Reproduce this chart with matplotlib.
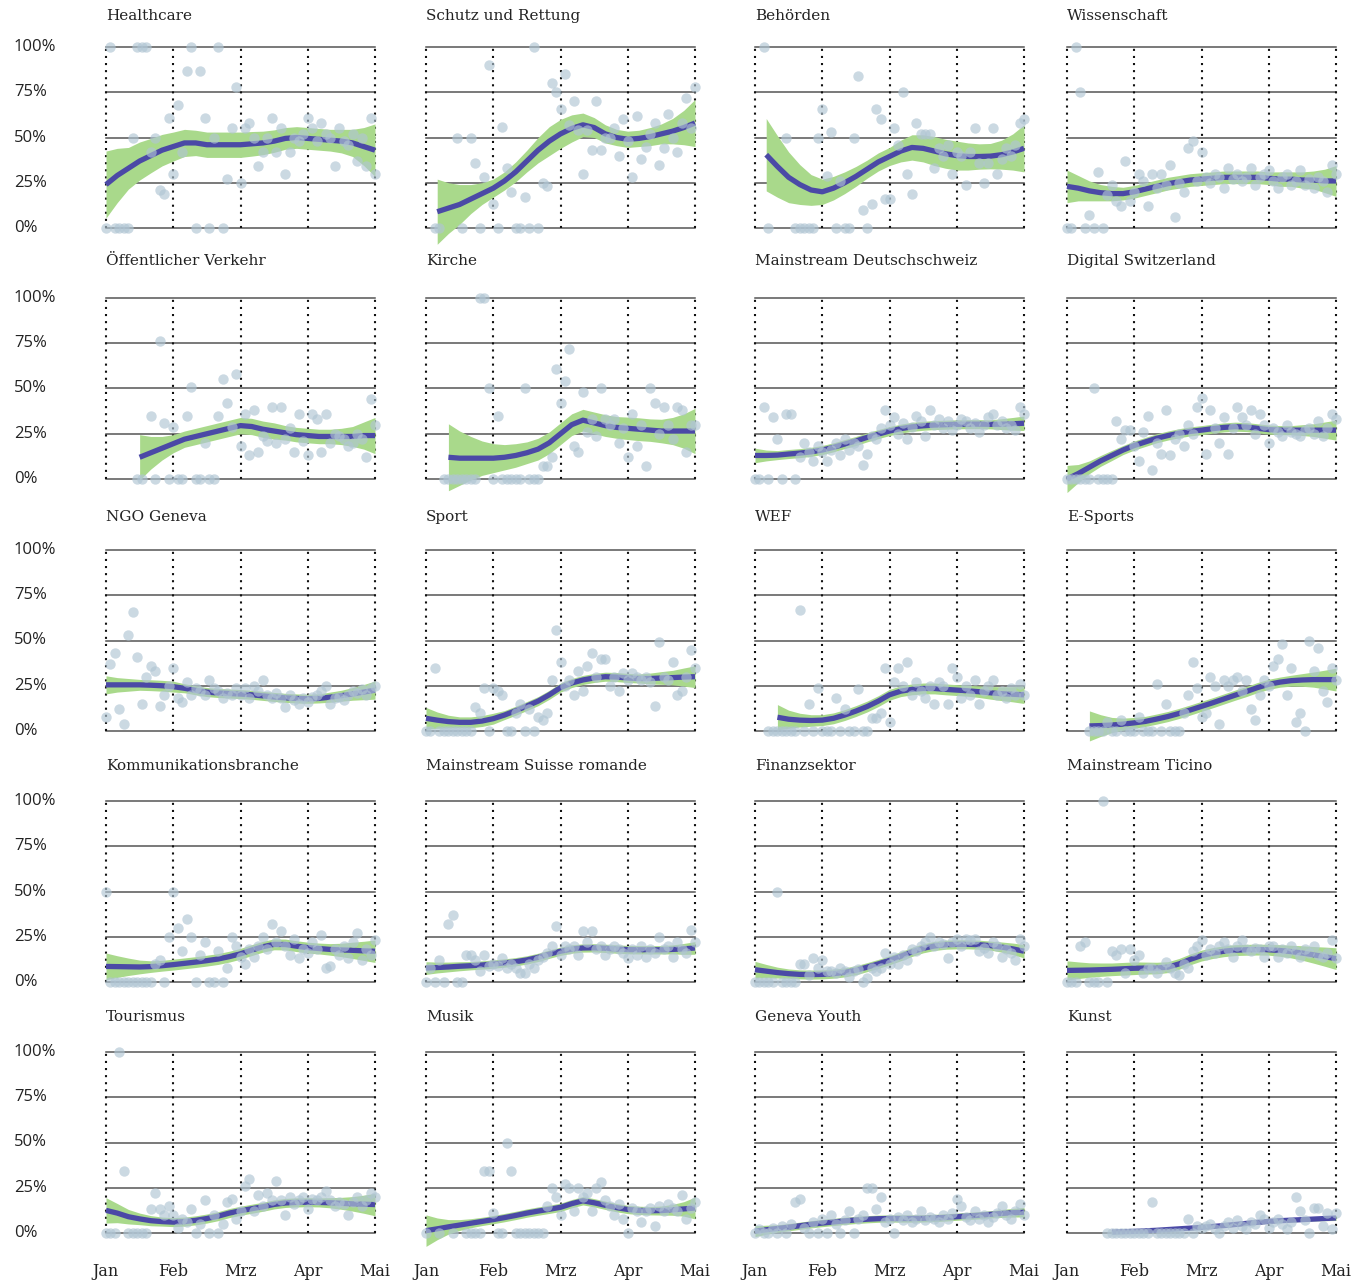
import numpy as np
import matplotlib
matplotlib.use("Agg")
import matplotlib.pyplot as plt

nan = np.nan

# Anteil in Prozent, ein Punkt pro zweitem Tag ab 1. Januar (Tag 0 .. 120)
# *_fit / *_se: Loess-Kurve und halbe Bandbreite, alle 5 Tage
healthcare_pts = [0, 100, 0, 0, 0, 0, 50, 100, 100, 100,
                  42, 50, 21, 19, 61, 30, 68, 42, 87, 100,
                  0, 87, 61, 0, 50, 100, 0, 27, 55, 78,
                  25, 55, 58, 50, 34, 42, 50, 61, 42, 55,
                  30, 42, 50, 48, 52, 61, 55, 48, 58, 52,
                  50, 34, 55, 48, 46, 52, 37, 50, 34, 61, 30]
healthcare_fit = [24, 29, 33, 37, 40, 43, 45, 47, 47, 46, 46, 46, 46, 46.5, 47,
                  48, 49.5, 50, 49.5, 49, 48.5, 48, 47, 45, 43]
healthcare_se = [18.5, 15, 11.5, 10.5, 9.5, 8.7, 8, 7.5, 7, 7, 7, 7, 7, 6.8, 6.5,
                 6.2, 6, 6, 6, 6, 6, 6.5, 7.5, 10.5, 14.5]

schutz_pts = [nan, nan, 0, 0, nan, nan, nan, 50, 0, nan,
              50, 36, 0, 28, 90, 13, 0, 56, 33, 20,
              0, 0, 17, 0, 100, 0, 25, 23, 80, 75,
              66, 85, 57, 70, 54, 30, 54, 43, 70, 43,
              50, 50, 55, 40, 60, 48, 28, 62, 38, 45,
              52, 58, 35, 44, 63, 50, 42, 58, 72, 55, 78]
schutz_fit = [nan, 9, 11, 13, 16, 19, 22, 26, 31, 37, 43, 48, 52, 55, 57,
              55.5, 52, 50, 49, 49.5, 50.5, 52, 53.5, 55.5, 58]
schutz_se = [nan, 18, 14, 11, 8, 6, 5, 5, 5.5, 6, 7, 8, 8, 7.5, 6.5,
             5.5, 5, 4.5, 4.5, 4.5, 5, 5.5, 7, 9.5, 13]

behoerden_pts = [nan, nan, 100, 0, nan, nan, nan, 50, nan, 0,
                 0, 0, 0, 0, 50, 66, 29, 53, 0, 26,
                 0, 0, 50, 84, 10, 0, 13, 66, 60, 16,
                 16, 55, 46, 75, 30, 19, 58, 52, 52, 52,
                 33, 44, 40, 46, 30, 42, 40, 24, 42, 55,
                 36, 25, 36, 55, 30, 38, 44, 40, 46, 58, 60]
behoerden_fit = [nan, 40.5, 34, 28, 24, 21, 20, 22, 25, 28.5, 32.5, 36.5, 39.5, 42.5, 44.5,
                 44, 42.5, 41, 40, 39.5, 39.5, 39.7, 40.5, 42, 44]
behoerden_se = [nan, 20, 17, 14, 11, 8.5, 7, 6.5, 6, 5.5, 5, 5, 5, 6, 7,
                7.5, 8, 8, 8, 7.5, 7, 7, 8, 10, 13]

wissenschaft_pts = [0, 0, 100, 75, 0, 7, 0, 31, 0, 18,
                    24, 15, 12, 37, 15, 20, 30, 26, 12, 30,
                    22, 30, 24, 35, 6, 25, 20, 44, 48, 26,
                    42, 28, 25, 30, 28, 22, 33, 27, 30, 26,
                    28, 33, 24, 28, 30, 32, 26, 22, 28, 30,
                    24, 26, 32, 24, 27, 22, 28, 26, 20, 35, 30]
wissenschaft_fit = [23, 22, 20.5, 19.5, 19, 19, 20, 21.5, 23, 24.5, 25.5, 26.5, 27, 27.5, 28,
                    28, 28, 28, 27.5, 27, 27, 26.5, 26.5, 26, 26]
wissenschaft_se = [9, 7, 5.5, 4.5, 4, 3.5, 3.5, 3.5, 3.5, 3.5, 3.5, 3.5, 3.5, 3.5, 3.5,
                   3.5, 3.5, 3.5, 3.5, 4, 4, 4.5, 5, 6.5, 8.5]

oev_pts = [nan, nan, nan, nan, nan, nan, nan, 0, 0, nan,
           35, 0, 76, 31, 0, 29, 0, 0, 35, 51,
           0, 0, 20, 0, 0, 35, 55, 42, 29, 58,
           18, 36, 13, 38, 15, 24, 21, 40, 20, 40,
           22, 28, 15, 36, 21, 13, 36, 33, 15, 36,
           20, 25, 24, 22, 18, 20, 25, 22, 12, 44, 30]
oev_fit = [nan, nan, nan, 12, 14.5, 17, 19.5, 22, 23.5, 25, 26.5, 28, 29.5, 29, 27.5,
           26.5, 25.5, 24.5, 24, 23.5, 23.5, 23.5, 23.5, 24, 24]
oev_se = [nan, nan, nan, 12.5, 9, 6.5, 5, 4.5, 4.5, 4.5, 4.5, 4.5, 4.5, 4.5, 4.5,
          4.5, 4, 4, 4, 4, 4, 4.5, 5.5, 7.5, 10]

kirche_pts = [nan, nan, nan, nan, 0, 0, 0, 0, 0, 0,
              0, 0, 100, 100, 50, 0, 35, 0, 0, 0,
              0, 0, 50, 0, 0, 0, 7, 7, 12, 61,
              42, 54, 72, 18, 15, 48, 26, 33, 24, 50,
              33, 30, 33, 20, 28, 12, 36, 18, 30, 7,
              50, 42, 25, 40, 30, 22, 40, 38, 15, 30, 30]
kirche_fit = [nan, nan, 12, 11.5, 11.5, 11.5, 11.5, 12, 13, 14.5, 16.5, 20, 25, 30, 32.5,
              31, 29.5, 28.5, 28, 27.5, 27, 26.5, 26.5, 26.5, 26.5]
kirche_se = [nan, nan, 18.5, 15, 12, 9.5, 8, 7, 6.5, 6, 6, 6, 6, 6, 6,
             6, 6, 6, 6.2, 6.3, 6.2, 6.5, 7.5, 9.5, 12.5]

ms_de_pts = [0, 0, 40, 0, 34, 22, 0, 36, 36, 0,
             12, 20, 15, 10, 18, 15, 10, 16, 20, 13,
             22, 16, 20, 18, 8, 14, 24, 22, 28, 38,
             30, 34, 25, 31, 22, 29, 35, 32, 24, 38,
             30, 33, 28, 32, 27, 30, 33, 32, 28, 31,
             26, 30, 34, 36, 30, 32, 28, 30, 27, 40, 36]
ms_de_fit = [13, 13, 13.2, 13.8, 14.3, 15, 16, 17.5, 19.3, 21, 23, 24.8, 26.5, 27.8, 28.8,
             29.4, 29.8, 30, 30.2, 30.3, 30.3, 30.2, 30.3, 30.5, 30.8]
ms_de_se = [4, 3, 2.5, 2.5, 2.5, 2.5, 2.5, 2.5, 2.5, 2.5, 2.5, 2.5, 2.5, 2.5, 2.5,
            2.5, 2.5, 2.5, 2.5, 2.5, 2.5, 2.5, 3, 3.5, 4]

digital_pts = [0, 0, 0, 0, 0, 0, 50, 0, 0, 0,
               0, 32, 22, 27, 27, 18, 10, 26, 35, 5,
               20, 14, 38, 13, 22, 25, 18, 30, 25, 40,
               45, 14, 38, 28, 20, 34, 14, 28, 40, 34,
               30, 38, 25, 36, 30, 20, 28, 26, 24, 30,
               26, 25, 24, 27, 28, 25, 32, 24, 28, 36, 33]
digital_fit = [0, 3, 6.5, 10, 13, 16, 18.5, 20.5, 22.5, 24, 25.3, 26.3, 27, 27.8, 28.5,
               28.9, 28.7, 28, 27.3, 27, 27, 27, 27, 27, 27]
digital_se = [7.5, 5, 3.5, 3, 2.8, 2.5, 2.5, 2.5, 2.5, 2.5, 2.5, 2.5, 2.5, 2.5, 2.5,
              2.5, 2.5, 2.5, 2.5, 2.5, 2.5, 3, 3.5, 4.5, 5.5]

ngo_pts = [8, 37, 43, 12, 4, 53, 66, 41, 15, 30,
           36, 33, 14, 20, 25, 35, 18, 16, 27, 20,
           24, 22, 20, 28, 24, 22, 18, 21, 20, 24,
           20, 24, 18, 25, 22, 28, 20, 18, 21, 18,
           13, 20, 17, 15, 18, 16, 19, 20, 22, 25,
           15, 18, 19, 17, 20, 22, 21, 23, 20, 24, 25]
ngo_fit = [25.5, 25.5, 25.5, 25.5, 25.3, 25, 24.5, 23.6, 22.5, 21.5, 21, 20.7, 20.4, 20, 19.4,
           18.8, 18.3, 18, 17.8, 18, 18.7, 19.5, 20.5, 21.5, 22.6]
ngo_se = [5, 4, 3.5, 3, 3, 3, 3, 2.5, 2.5, 2.5, 2.5, 2.5, 2.5, 2.5, 2.5,
          2.5, 2.5, 2.5, 2.5, 2.5, 2.8, 3, 3.5, 4.2, 5]

sport_pts = [0, 0, 35, 0, 0, 0, 0, 0, 0, 0,
             0, 13, 10, 24, 0, 24, 22, 20, 0, 0,
             10, 15, 0, 12, 0, 8, 6, 10, 28, 56,
             38, 25, 28, 20, 33, 22, 36, 43, 30, 40,
             40, 25, 30, 22, 32, 28, 32, 30, 28, 30,
             27, 14, 49, 30, 28, 38, 20, 22, 30, 45, 35]
sport_fit = [7, 6, 5.2, 4.8, 4.8, 5.5, 6.8, 8.8, 11.2, 13.8, 16.5, 20, 24, 26.5, 28.2,
             29.3, 30, 29.8, 29.3, 29, 29, 29.3, 29.5, 29.8, 30]
sport_se = [6, 4.5, 3.5, 3, 3, 3, 3, 2.5, 2.5, 2.5, 2.5, 2.5, 2.5, 2.5, 2.5,
            2.5, 2.5, 2.5, 2.5, 2.5, 3, 3.5, 4, 5, 6]

wef_pts = [nan, nan, nan, 0, 0, 0, 0, 0, 0, 0,
           67, 0, 15, 0, 24, 0, 0, 0, 18, 0,
           12, 0, 0, 23, 0, 0, 7, 7, 10, 35,
           5, 27, 35, 25, 38, 20, 27, 22, 18, 25,
           15, 27, 25, 15, 35, 30, 18, 25, 20, 28,
           15, 22, 25, 28, 20, 22, 18, 24, 20, 26, 20]
wef_fit = [nan, nan, 7.6, 6.5, 6, 5.8, 6, 7, 8.8, 11, 13.5, 16.5, 20, 22, 23,
           23.5, 23.5, 23, 22.6, 22.2, 21.7, 21.1, 20.6, 20.3, 20]
wef_se = [nan, nan, 7, 5, 3.8, 3.2, 3, 3, 3, 3, 3, 3, 3, 3, 3,
          3, 3, 3, 3, 3, 3.2, 3.5, 3.8, 4.2, 4.8]

esports_pts = [nan, nan, nan, nan, nan, 0, 0, 0, 0, 5,
               0, 0, 6, 0, 0, 0, 8, 0, 0, 0,
               26, 0, 15, 0, 0, 0, 10, 20, 38, 24,
               8, 10, 30, 25, 4, 28, 25, 28, 30, 22,
               28, 12, 6, 20, 28, 25, 36, 40, 48, 20,
               35, 5, 10, 0, 50, 33, 46, 22, 16, 35, 28]
esports_fit = [nan, nan, 2.8, 3, 3.3, 3.8, 4.5, 5.3, 6.6, 8, 9.7, 11.6, 13.6, 15.6, 17.7,
               19.8, 21.8, 24, 25.8, 27, 27.8, 28.2, 28.4, 28.4, 28.4]
esports_se = [nan, nan, 8.3, 6, 4.2, 3.3, 3, 2.8, 2.8, 2.8, 2.8, 2.8, 2.8, 2.8, 2.8,
              2.8, 2.8, 2.8, 2.8, 2.8, 3, 3.5, 4.2, 5.2, 6.3]

komm_pts = [50, 0, 0, 0, 0, 0, 0, 0, 0, 0,
            0, 10, 12, 0, 25, 50, 30, 17, 35, 25,
            0, 15, 22, 0, 0, 17, 0, 8, 25, 20,
            14, 10, 18, 14, 20, 25, 18, 32, 22, 28,
            20, 15, 24, 13, 18, 16, 22, 18, 26, 8,
            9, 18, 15, 20, 13, 22, 27, 12, 18, 15, 23]
komm_fit = [8.6, 8.5, 8.4, 8.3, 8.5, 9, 9.6, 10.3, 11, 11.8, 12.7, 14, 15.6, 17.6, 19.5,
            20.8, 20.7, 19.8, 19, 18.5, 18, 17.7, 17.5, 17.2, 17]
komm_se = [7.4, 6, 4.8, 3.8, 3.2, 3, 3, 3, 3, 3, 3, 3, 3, 3, 3,
           3, 3, 3, 3, 3, 3.2, 3.7, 4.5, 5.3, 6.2]

ms_fr_pts = [0, 8, 0, 12, 0, 32, 37, 0, 0, 15,
             15, 12, 6, 15, 9, 10, 9, 13, 8, 10,
             8, 5, 5, 10, 8, 12, 14, 16, 20, 31,
             15, 20, 18, 20, 15, 28, 22, 28, 18, 20,
             15, 18, 20, 18, 16, 13, 18, 15, 20, 14,
             18, 16, 25, 18, 20, 14, 22, 18, 16, 29, 22]
ms_fr_fit = [7.7, 8, 8.3, 8.7, 9, 9.4, 9.9, 10.5, 11.2, 12.2, 13.6, 15.4, 17, 18.2, 18.8,
             18.9, 18.6, 18.2, 17.9, 17.8, 17.8, 17.8, 18, 18.3, 18.8]
ms_fr_se = [3.5, 3, 2.7, 2.5, 2.3, 2.3, 2.3, 2.3, 2.3, 2.3, 2.3, 2.3, 2.3, 2.3, 2.3,
            2.3, 2.3, 2.3, 2.3, 2.3, 2.3, 2.3, 2.5, 3, 3.5]

finanz_pts = [0, 0, 0, 0, 0, 50, 0, 0, 0, 0,
              10, 10, 4, 13, 8, 12, 6, 6, 5, 8,
              6, 3, 6, 7, 0, 2, 8, 6, 8, 16,
              10, 14, 10, 15, 12, 18, 17, 20, 22, 25,
              20, 22, 21, 13, 22, 24, 20, 24, 23, 24,
              17, 19, 16, 22, 20, 14, 18, 16, 12, 24, 20]
finanz_fit = [6.8, 6, 5.2, 4.6, 4.2, 4.1, 4.2, 4.6, 5.3, 6.5, 8.2, 10, 12, 14.2, 16.6,
              18.6, 19.9, 20.6, 20.8, 20.8, 20.6, 20.1, 19.3, 18.3, 17]
finanz_se = [4.6, 3.7, 3, 2.6, 2.5, 2.5, 2.5, 2.5, 2.5, 2.5, 2.5, 2.5, 2.5, 2.5, 2.5,
             2.5, 2.5, 2.5, 2.5, 2.5, 2.5, 2.5, 2.8, 3.2, 3.7]

ticino_pts = [0, 0, 0, 20, 22, 0, 0, 0, 100, 0,
              17, 15, 18, 5, 18, 12, 15, 5, 8, 8,
              5, 8, 11, 8, 5, 4, 10, 8, 17, 20,
              23, 15, 18, 16, 20, 22, 18, 14, 20, 23,
              18, 17, 19, 18, 14, 20, 20, 14, 18, 16,
              20, 17, 14, 18, 16, 20, 15, 14, 16, 23, 13]
ticino_fit = [6.4, 6.5, 6.6, 6.8, 7, 7.3, 7.6, 7.7, 7.7, 8.2, 10, 12.5, 14.6, 16, 17,
              17.6, 17.8, 17.9, 17.8, 17.4, 16.8, 16, 15, 14, 12.9]
ticino_se = [5.3, 4.6, 4, 3.7, 3.5, 3.5, 3.5, 3.3, 3.2, 3, 3, 3, 3, 3, 3,
             3, 3, 3, 3, 3.2, 3.5, 4, 4.6, 5.3, 6]

tourismus_pts = [0, 0, 0, 100, 34, 0, 0, 0, 0, 0,
                 13, 22, 13, 10, 15, 10, 3, 8, 6, 13,
                 0, 5, 18, 0, 10, 0, 5, 17, 19, 8,
                 12, 26, 30, 12, 21, 15, 22, 18, 29, 18,
                 10, 20, 16, 18, 20, 13, 19, 18, 20, 23,
                 18, 15, 17, 16, 10, 17, 20, 15, 18, 22, 20]
tourismus_fit = [12.5, 11, 9, 7.8, 6.8, 6.3, 6, 6.3, 7, 8, 9.3, 11, 12.3, 13.4, 14.5,
                 15.8, 16.6, 16.9, 17, 16.9, 16.7, 16.4, 16.1, 15.9, 15.7]
tourismus_se = [7, 5.3, 4, 3.2, 2.8, 2.5, 2.5, 2.5, 2.5, 2.5, 2.5, 2.5, 2.5, 2.5, 2.5,
                2.5, 2.5, 2.5, 2.5, 2.5, 2.8, 3.3, 4, 5, 6.2]

musik_pts = [0, nan, nan, 0, nan, nan, 0, nan, nan, 0,
             0, 0, 0, 34, 34, 11, 0, 0, 50, 34,
             0, 0, 0, 0, 0, 0, 0, 15, 25, 20,
             10, 27, 25, 12, 25, 20, 22, 12, 25, 28,
             18, 15, 10, 16, 8, 0, 14, 12, 6, 12,
             14, 4, 15, 12, 16, 14, 12, 21, 8, 14, 17]
musik_fit = [1.3, 2.3, 3.4, 4.4, 5.4, 6.4, 7.4, 8.5, 9.7, 11, 12.1, 13.1, 14.2, 16.2, 17.8,
             16.7, 15.3, 14, 13, 12.5, 12.3, 12.4, 12.8, 13.3, 13.8]
musik_se = [8.7, 6, 4, 3, 2.5, 2.3, 2.3, 2.3, 2.3, 2.3, 2.3, 2.3, 2.3, 2.3, 2.3,
            2.3, 2.3, 2.3, 2.3, 2.3, 2.3, 2.5, 3, 4, 6]

youth_pts = [0, 2, 0, 0, 3, 0, 4, 0, 5, 17,
             19, 3, 0, 6, 0, 8, 0, 10, 5, 0,
             7, 12, 0, 8, 10, 25, 25, 13, 20, 6,
             8, 0, 9, 7, 10, 6, 8, 12, 7, 9,
             8, 6, 10, 8, 11, 19, 15, 9, 7, 12,
             8, 10, 6, 9, 11, 15, 10, 8, 12, 16, 10]
youth_fit = [1, 1.8, 2.5, 3.2, 4, 4.8, 5.5, 6.1, 6.7, 7.2, 7.6, 7.9, 8, 8, 8,
             8.1, 8.3, 8.6, 9, 9.4, 9.8, 10.3, 10.8, 11.2, 11.5]
youth_se = [3, 2.5, 2, 2, 2, 2, 2, 2, 2, 2, 2, 2, 2, 2, 2,
            2, 2, 2, 2, 2, 2, 2, 2.2, 2.4, 2.6]

kunst_pts = [nan, nan, nan, nan, nan, nan, nan, nan, nan, 0,
             0, 0, 0, 0, 0, 0, 0, 0, 0, 17,
             0, 0, 0, 0, 0, 0, 0, 8, 0, 4,
             3, 4, 5, 2, 0, 4, 6, 3, 7, 4,
             2, 6, 5, 10, 8, 3, 6, 8, 5, 2,
             6, 20, 12, 7, 0, 14, 14, 4, 11, 2, 11]
kunst_fit = [nan, nan, nan, nan, 0.5, 0.7, 0.9, 1.2, 1.5, 1.9, 2.3, 2.7, 3.1, 3.6, 4.1,
             4.7, 5.3, 5.9, 6.4, 6.8, 7.1, 7.4, 7.7, 8, 8.3]
kunst_se = [nan, nan, nan, nan, 1, 1, 1, 1, 1, 1, 1, 1, 1, 1, 1,
            1, 1, 1, 1, 1, 1, 1, 1, 1.2, 1.4]

titles = ["Healthcare", "Schutz und Rettung", "Behörden", "Wissenschaft",
          "Öffentlicher Verkehr", "Kirche", "Mainstream Deutschschweiz", "Digital Switzerland",
          "NGO Geneva", "Sport", "WEF", "E-Sports",
          "Kommunikationsbranche", "Mainstream Suisse romande", "Finanzsektor", "Mainstream Ticino",
          "Tourismus", "Musik", "Geneva Youth", "Kunst"]
months = ["Jan", "Feb", "Mrz", "Apr", "Mai"]
month_days = [0, 30, 60, 90, 120]
pct_ticks = [0, 25, 50, 75, 100]

panels = [
    (healthcare_pts, healthcare_fit, healthcare_se),
    (schutz_pts, schutz_fit, schutz_se),
    (behoerden_pts, behoerden_fit, behoerden_se),
    (wissenschaft_pts, wissenschaft_fit, wissenschaft_se),
    (oev_pts, oev_fit, oev_se),
    (kirche_pts, kirche_fit, kirche_se),
    (ms_de_pts, ms_de_fit, ms_de_se),
    (digital_pts, digital_fit, digital_se),
    (ngo_pts, ngo_fit, ngo_se),
    (sport_pts, sport_fit, sport_se),
    (wef_pts, wef_fit, wef_se),
    (esports_pts, esports_fit, esports_se),
    (komm_pts, komm_fit, komm_se),
    (ms_fr_pts, ms_fr_fit, ms_fr_se),
    (finanz_pts, finanz_fit, finanz_se),
    (ticino_pts, ticino_fit, ticino_se),
    (tourismus_pts, tourismus_fit, tourismus_se),
    (musik_pts, musik_fit, musik_se),
    (youth_pts, youth_fit, youth_se),
    (kunst_pts, kunst_fit, kunst_se),
]

pt_days = np.arange(0, 121, 2)
fit_days = np.arange(0, 121, 5)

W, H = 1354, 1282
fig = plt.figure(figsize=(W / 100, H / 100), dpi=100)
fig.patch.set_facecolor("white")

col_left = [106, 426, 755, 1067]
row_top = [47, 298, 550, 801, 1052]
title_gap = [31, 37, 33, 35, 35]
pw, ph = 269, 181
serif = "DejaVu Serif"

for i, (pts, fit, se) in enumerate(panels):
    r, c = divmod(i, 4)
    ax = fig.add_axes([col_left[c] / W, 1 - (row_top[r] + ph) / H, pw / W, ph / H])
    ax.set_xlim(0, 120)
    ax.set_ylim(0, 100)
    ax.axis("off")

    for v in pct_ticks:
        ax.axhline(v, color="#555555", lw=1.1, zorder=0, clip_on=False)
    for d in month_days:
        ax.axvline(d, color="#111111", lw=1.5, ls=(0, (1, 2.4)), zorder=0, clip_on=False)

    fit = np.array(fit, dtype=float)
    se = np.array(se, dtype=float)
    ok = ~np.isnan(fit)
    ax.fill_between(fit_days[ok], fit[ok] - se[ok], fit[ok] + se[ok],
                    color="#a9d98b", lw=0, zorder=1, clip_on=False)
    ax.plot(fit_days[ok], fit[ok], color="#4b49a6", lw=3.8,
            solid_capstyle="butt", zorder=2, clip_on=False)
    ax.scatter(pt_days, pts, s=56, color="#b0c5d3", alpha=0.65, lw=0,
               zorder=3, clip_on=False)

    ax.text(0, 1 + title_gap[r] / ph, titles[i], transform=ax.transAxes, ha="left",
            va="center", fontsize=11, family=serif, color="#222222")

    if c == 0:
        for v in pct_ticks:
            y = 1 - (row_top[r] + ph * (1 - v / 100)) / H
            fig.text(14 / W, y, f"{v}%", ha="left", va="center", fontsize=12,
                     family="Open Sans", color="#222222")
    if r == 4:
        for d, m in zip(month_days, months):
            fig.text((col_left[c] + pw * d / 120) / W, 1 - 1271 / H, m, ha="center",
                     va="center", fontsize=11.5, family=serif, color="#222222")

fig.savefig("out.png", dpi=100, facecolor="white")
